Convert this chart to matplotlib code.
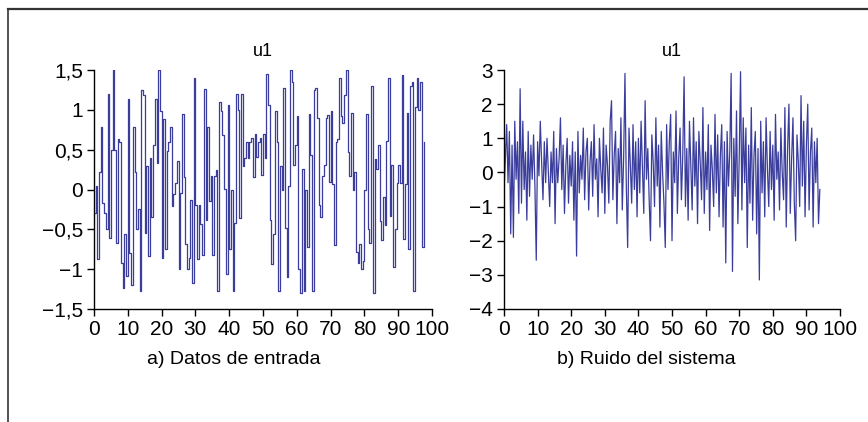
import numpy as np
import matplotlib
matplotlib.use("Agg")
import matplotlib.pyplot as plt
from matplotlib.lines import Line2D

plt.rcParams["font.family"] = ["Liberation Sans", "DejaVu Sans"]

# Input data (step signal), one value per 0.5 time units
u_input = [
    -0.3, 0.05, -0.87, 0.22, 0.79, -0.17, -0.3, -0.49, 1.2, -0.61, 0.5, 1.5, 0.5, -0.67,
    0.64, 0.6, -0.92, -1.24, -0.56, -1.09, 1.14, -0.8, -1.2, 0.79, 0.22, -0.5, -0.24,
    -1.27, 1.25, 1.18, -0.55, 0.3, -0.84, 0.4, -0.35, 0.56, 1.14, 0.33, 1.5, 0.98, -0.86,
    0.88, -0.75, 0.48, 0.6, 0.79, -0.21, -0.06, 0.08, 0.36, -1.0, -0.04,
    0.95, 0.16, -0.69, -1.0, -0.86, -0.13, -1.17, 1.4, -0.2, -0.87, -0.2, -0.43, -0.82,
    1.26, -0.38, 0.79, -0.15, 0.17, -0.82, 0.17, 0.24, -1.27, 1.1, 0.98, 0.68, 0.01,
    -1.06, 1.06, -0.75, 0.0, -1.27, -0.42, 1.2, 1.0, -0.36, 1.2, 0.3, 0.4, 0.6, 0.4, 0.6,
    0.65, 0.16, 0.7,
    0.41, 0.6, 0.65, 0.18, 0.7, 0.4, 1.45, 1.06, -0.38, -0.93, -0.56, 0.98, 0.6, -1.27,
    0.3, 0.0, 1.27, -0.48, -1.1, 0.05, 1.5, 1.35, 0.31, 0.56, 0.92, -1.0, -1.3, 0.26,
    -1.27, 0.0, -0.72, 0.95, 0.43, -1.27, 1.25, 1.27, 0.9, -0.2, -0.34, 0.17, 0.31, 0.9,
    0.94, 0.1, 0.98, 0.07, -0.7, 0.6, 0.64, 1.4, 0.92, 0.83, 1.18, 1.5, 0.47, 0.17, 0.96,
    0.0, 0.22, -0.79, -0.92, -0.69, -1.0, -0.9, 0.0, 0.95, -0.5, -0.67, 1.3, -1.3, 0.38,
    0.26, 0.56, -0.4, -0.64, -0.1, -0.45, 0.61, 1.4, -0.33, 0.31, -0.97, -0.5, 0.08, 0.31,
    0.08, 1.44, -0.62, 0.07, 0.96, -0.75, 1.3, 1.35, -1.27, 1.03, 1.4, 1.0, 1.35, -0.72, 0.6,
]
dt_input = 0.5

# System noise, one value per 0.4 time units
u_noise = [
    -0.6, 0.4, 1.4, -0.3, 1.2, -1.8, 0.8, -1.9, 1.5, -0.2, 0.9, -1.2, 2.45, -0.9, 1.5, -0.5, 0.6, -1.4, 1.2, -0.7,
    0.8, -0.2, 1.1, -0.4, -2.57, 0.9, -0.1, 1.5, 0.3, -0.8, 0.9, -0.3, 1.0, 0.0, -1.0, 0.6, -0.3, 1.2, -1.5, 0.7,
    -0.3, 0.4, 1.6, -0.5, 0.8, -1.2, 0.2, 1.0, -0.9, 0.5, -0.4, 0.9, -1.4, 0.6, -2.45, 1.2, -0.6, 0.5, -0.2, 1.3,
    -0.8, 0.6, 1.0, -1.1, 0.3, 0.9, -0.7, 1.4, -0.2, 0.4, -1.3, 1.0, 0.1, -0.6, 1.3, -1.2, 0.8, 0.2, -0.9, 1.5,
    2.1, -0.8, 0.5, 1.2, -1.5, 0.7, -0.3, 1.6, -1.1, 0.4, 2.9, -0.4, -2.2, 1.3, 0.2, -0.9, 1.4, -0.5, 0.9, -1.3,
    1.0, -0.6, 1.5, 0.1, -1.2, 2.1, -0.2, 0.7, -0.8, -2.0, 1.1, 0.3, -1.0, 1.6, -0.4, 0.8, -1.6, 1.2, 0.0, -0.9,
    -2.2, 1.4, -0.5, 0.9, 1.7, -2.0, 0.6, -0.3, 1.8, -1.2, 0.4, 1.3, -0.8, 0.5, 2.8, -1.0, 0.7, -1.4, 1.5, 0.2,
    -1.1, 1.6, -0.4, 0.9, -1.5, 1.2, 0.3, -0.8, 1.9, -1.2, 0.6, -0.5, 1.4, -1.7, 0.8, 0.1, -1.0, 1.7, -0.6, 1.1,
    -1.3, 0.5, 1.4, -1.6, 0.9, -2.65, 1.2, -0.4, 0.6, 2.9, -2.9, 1.0, -0.7, 1.8, -1.5, 0.4, 2.95, -1.1, 1.6, -0.3,
    1.3, -2.2, 0.8, -0.9, 1.9, -1.4, 0.5, 1.2, -1.8, 0.7, -3.15, 1.5, -0.6, 0.9, -1.3, 1.6, 0.1, -1.0, 1.2, -0.5,
    0.8, -1.4, 1.7, -0.2, 0.6, -1.1, 1.3, 0.0, -0.8, 1.9, -1.6, 0.7, 2.0, -1.2, 0.4, 1.6, -0.9, -2.0, 1.1, 0.3,
    -1.0, 2.25, -0.4, 1.5, -1.3, 0.8, 2.0, -1.1, 0.6, 1.3, -1.6, 0.9, -0.3, 1.0, -1.5, -0.5,
]
dt_noise = 0.4

x_ticks = [0, 10, 20, 30, 40, 50, 60, 70, 80, 90, 100]
left_yticks = [-1.5, -1, -0.5, 0, 0.5, 1, 1.5]
left_ylabels = ["\u22121,5", "\u22121", "\u22120,5", "0", "0,5", "1", "1,5"]
right_yticks = [-4, -3, -2, -1, 0, 1, 2, 3]
right_ylabels = ["\u22124", "\u22123", "\u22122", "\u22121", "0", "1", "2", "3"]

line_color = "#3a3d9c"

fig = plt.figure(figsize=(8.68, 4.22), dpi=100)

# Frame around the figure (top and left edges only)
fig.add_artist(Line2D([7.5 / 868, 1.0], [1 - 9 / 422, 1 - 9 / 422], color="#333333", lw=1.6))
fig.add_artist(Line2D([7.5 / 868, 7.5 / 868], [0.0, 1 - 9 / 422], color="#333333", lw=1.2))


def style_axes(ax, yticks, ylabels, ylim):
    ax.set_xlim(0, 100)
    ax.set_ylim(*ylim)
    ax.set_xticks(x_ticks)
    ax.set_xticklabels([str(t) for t in x_ticks])
    ax.set_yticks(yticks)
    ax.set_yticklabels(ylabels)
    for side in ["top", "right"]:
        ax.spines[side].set_visible(False)
    for side in ["left", "bottom"]:
        ax.spines[side].set_linewidth(1.0)
    ax.tick_params(direction="out", length=5, width=1.0, labelsize=15, pad=3)
    ax.set_title("u1", fontsize=13, pad=10)


# a) input data
ax1 = fig.add_axes([94 / 868, 113 / 422, 338 / 868, 239 / 422])
t_in = np.arange(len(u_input)) * dt_input
ax1.plot(t_in, u_input, drawstyle="steps-post", color=line_color, lw=0.9)
style_axes(ax1, left_yticks, left_ylabels, (-1.5, 1.5))

# b) system noise
ax2 = fig.add_axes([504 / 868, 113 / 422, 336 / 868, 239 / 422])
t_no = np.arange(len(u_noise)) * dt_noise
ax2.plot(t_no, u_noise, color=line_color, lw=0.9)
style_axes(ax2, right_yticks, right_ylabels, (-4, 3))

fig.text(234 / 868, 1 - 359 / 422, "a) Datos de entrada", ha="center", va="center", fontsize=14)
fig.text(646 / 868, 1 - 359 / 422, "b) Ruido del sistema", ha="center", va="center", fontsize=14)

fig.savefig("out.png", dpi=100)
